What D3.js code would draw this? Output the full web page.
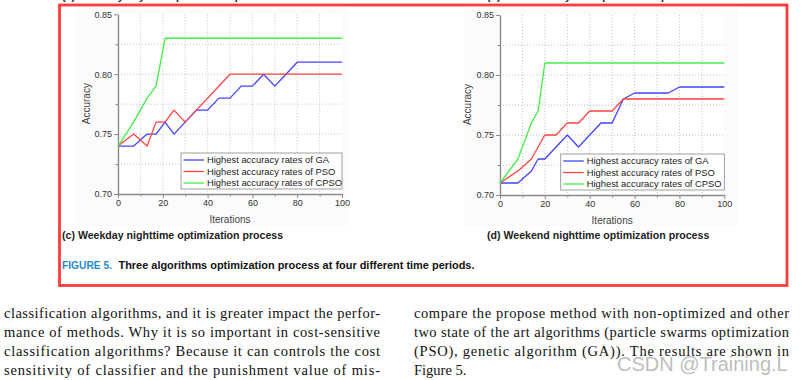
<!DOCTYPE html>
<html><head><meta charset="utf-8">
<script src="https://cdn.jsdelivr.net/npm/d3@7/dist/d3.min.js"></script>
<style>body{margin:0;background:#fff}svg{display:block}</style>
</head><body><svg id="c" width="804" height="380"></svg>
<script>
// ---------- data ----------
const xTicks = [0, 20, 40, 60, 80, 100];
const xMinorTicks = [10, 30, 50, 70, 90];
const yTicks = [0.70, 0.75, 0.80, 0.85];
const yMinorTicks = [0.725, 0.775, 0.825];
const legendLabels = ["Highest accuracy rates of GA", "Highest accuracy rates of PSO", "Highest accuracy rates of CPSO"];

// (c) Weekday nighttime
const iterGA_c   = [0, 7, 13, 17, 21, 25, 30, 35, 40, 45, 50, 55, 60, 65, 70, 75, 80, 100];
const accGA_c    = [0.74, 0.74, 0.75, 0.75, 0.76, 0.75, 0.76, 0.77, 0.77, 0.78, 0.78, 0.79, 0.79, 0.80, 0.79, 0.80, 0.81, 0.81];
const iterPSO_c  = [0, 7, 13, 17, 21, 25, 30, 50, 100];
const accPSO_c   = [0.74, 0.75, 0.74, 0.76, 0.76, 0.77, 0.76, 0.80, 0.80];
const iterCPSO_c = [0, 7, 13, 17, 21, 100];
const accCPSO_c  = [0.74, 0.76, 0.78, 0.79, 0.83, 0.83];

// (d) Weekend nighttime
const iterGA_d   = [0, 8, 14, 17, 20, 30, 35, 45, 50, 55, 60, 75, 80, 100];
const accGA_d    = [0.71, 0.71, 0.72, 0.73, 0.73, 0.75, 0.74, 0.76, 0.76, 0.78, 0.785, 0.785, 0.79, 0.79];
const iterPSO_d  = [0, 8, 14, 20, 25, 30, 35, 40, 50, 55, 100];
const accPSO_d   = [0.71, 0.72, 0.73, 0.75, 0.75, 0.76, 0.76, 0.77, 0.77, 0.78, 0.78];
const iterCPSO_d = [0, 8, 14, 17, 20, 100];
const accCPSO_d  = [0.71, 0.73, 0.76, 0.77, 0.81, 0.81];

const captionC = "(c) Weekday nighttime optimization process";
const captionD = "(d) Weekend nighttime optimization process";
const captionA = "(a) Weekday daytime optimization process";
const captionB = "(b) Weekend daytime optimization process";
const figLabel = "FIGURE 5.";
const figText = "Three algorithms optimization process at four different time periods.";
const leftCol = [
  "classification algorithms, and it is greater impact the perfor-",
  "mance of methods. Why it is so important in cost-sensitive",
  "classification algorithms? Because it can controls the cost",
  "sensitivity of classifier and the punishment value of mis-"
];
const rightCol = [
  "compare the propose method with non-optimized and other",
  "two state of the art algorithms (particle swarms optimization",
  "(PSO), genetic algorithm (GA)). The results are shown in",
  "Figure 5."
];
const watermark = "CSDN @Training.L";

// ---------- styles ----------
const colors = ["#4343ff", "#ff4343", "#44ee44"];
const sans = "'Liberation Sans', Arial, sans-serif";
const serif = "'Liberation Serif', 'Times New Roman', serif";

const svg = d3.select("#c");
svg.append("rect").attr("width", 804).attr("height", 380).attr("fill", "#fff");

// faint figure image backgrounds
svg.append("rect").attr("x", 76).attr("y", 7).attr("width", 272).attr("height", 219).attr("fill", "#fbfbfb");
svg.append("rect").attr("x", 464).attr("y", 7).attr("width", 274).attr("height", 219).attr("fill", "#fbfbfb");

function zip(a, b) { return a.map((v, i) => [v, b[i]]); }

function drawChart(cfg) {
  const g = svg.append("g");
  const x = d3.scaleLinear().domain([0, 100]).range([cfg.x0, cfg.x1]);
  const y = d3.scaleLinear().domain([0.70, 0.85]).range([cfg.yb, cfg.yt]);

  g.append("rect").attr("x", x(0)).attr("y", y(0.85)).attr("width", x(100) - x(0)).attr("height", y(0.70) - y(0.85)).attr("fill", "#fff");

  // grid
  const gridX = d3.range(10, 100, 10);
  g.selectAll(".gx").data(gridX).enter().append("line")
    .attr("x1", d => x(d)).attr("x2", d => x(d)).attr("y1", y(0.85)).attr("y2", y(0.70))
    .attr("stroke", "#b5b5b5").attr("stroke-width", 0.8).attr("stroke-dasharray", "1,2");
  const gridY = [0.725, 0.75, 0.775, 0.80, 0.825];
  g.selectAll(".gy").data(gridY).enter().append("line")
    .attr("x1", x(0)).attr("x2", x(100)).attr("y1", d => y(d)).attr("y2", d => y(d))
    .attr("stroke", "#b5b5b5").attr("stroke-width", 0.8).attr("stroke-dasharray", "1,2");

  // axes
  const xa = g.append("g").attr("transform", `translate(0,${y(0.70)})`)
    .call(d3.axisBottom(x).tickValues(xTicks).tickSize(4).tickSizeOuter(0).tickPadding(2).tickFormat(d3.format("d")));
  const xm = g.append("g").attr("transform", `translate(0,${y(0.70)})`)
    .call(d3.axisBottom(x).tickValues(xMinorTicks).tickSize(2.5).tickSizeOuter(0).tickFormat(""));
  const ya = g.append("g").attr("transform", `translate(${x(0)},0)`)
    .call(d3.axisLeft(y).tickValues(yTicks).tickSize(4).tickSizeOuter(0).tickPadding(2).tickFormat(d3.format(".2f")));
  const ym = g.append("g").attr("transform", `translate(${x(0)},0)`)
    .call(d3.axisLeft(y).tickValues(yMinorTicks).tickSize(2.5).tickSizeOuter(0).tickFormat(""));
  [xa, xm, ya, ym].forEach(a => {
    a.select(".domain").attr("stroke", "#8a8a8a").attr("stroke-width", 1.4);
    a.selectAll(".tick line").attr("stroke", "#8a8a8a").attr("stroke-width", 1);
    a.selectAll("text").attr("font-family", sans).attr("font-size", 9).attr("fill", "#333");
  });
  xm.select(".domain").remove();
  ym.select(".domain").remove();

  // axis titles
  g.append("text").attr("x", (x(0) + x(100)) / 2).attr("y", cfg.xTitleY)
    .attr("text-anchor", "middle").attr("font-family", sans).attr("font-size", 10).attr("fill", "#444").text("Iterations");
  g.append("text").attr("transform", `translate(${cfg.yTitleX},${(y(0.70) + y(0.85)) / 2 - 0.5}) rotate(-90)`)
    .attr("text-anchor", "middle").attr("font-family", sans).attr("font-size", 10).attr("fill", "#444").text("Accuracy");

  // lines
  const line = d3.line().x(d => x(d[0])).y(d => y(d[1]));
  cfg.series.forEach((s, i) => {
    g.append("path").datum(s).attr("d", line).attr("fill", "none")
      .attr("stroke", colors[i]).attr("stroke-width", 1.3).attr("stroke-linejoin", "round");
  });

  // legend
  const lx = cfg.legX, ly = cfg.legY, lw = x(100) - lx, lh = 36;
  g.append("rect").attr("x", lx).attr("y", ly).attr("width", lw).attr("height", lh)
    .attr("fill", "#fff").attr("stroke", "#888").attr("stroke-width", 0.8);
  legendLabels.forEach((lab, i) => {
    const cy = ly + 7 + i * 11.5;
    g.append("line").attr("x1", lx + 2.5).attr("x2", lx + 23).attr("y1", cy).attr("y2", cy)
      .attr("stroke", colors[i]).attr("stroke-width", 1.3);
    g.append("text").attr("x", lx + 26).attr("y", cy).attr("dy", "0.35em")
      .attr("font-family", sans).attr("font-size", 9.4).attr("fill", "#222").text(lab);
  });
}

drawChart({
  x0: 118, x1: 342, yt: 14.3, yb: 194,
  xTitleY: 222.5, yTitleX: 89.5, legX: 181,  legY: 153,
  series: [zip(iterGA_c, accGA_c), zip(iterPSO_c, accPSO_c), zip(iterCPSO_c, accCPSO_c)]
});
drawChart({
  x0: 500, x1: 724.3, yt: 15, yb: 195,
  xTitleY: 223.5, yTitleX: 470.5, legX: 560.7, legY: 154,
  series: [zip(iterGA_d, accGA_d), zip(iterPSO_d, accPSO_d), zip(iterCPSO_d, accCPSO_d)]
});

// clipped captions of the row above (only their lower edge is visible)
svg.append("text").attr("x", 62).attr("y", 0.3).attr("font-family", sans).attr("font-weight", "bold")
  .attr("font-size", 10.6).attr("fill", "#222").text(captionA);
svg.append("text").attr("x", 487).attr("y", 0.3).attr("font-family", sans).attr("font-weight", "bold")
  .attr("font-size", 10.6).attr("fill", "#222").text(captionB);

// sub-captions
svg.append("text").attr("x", 62).attr("y", 238.5).attr("font-family", sans).attr("font-weight", "bold")
  .attr("font-size", 10.6).attr("fill", "#222").text(captionC);
svg.append("text").attr("x", 487).attr("y", 238.5).attr("font-family", sans).attr("font-weight", "bold")
  .attr("font-size", 10.6).attr("fill", "#222").text(captionD);

// figure caption
svg.append("text").attr("x", 62).attr("y", 268.5).attr("font-family", sans).attr("font-weight", "bold")
  .attr("font-size", 10.5).attr("fill", "#1f8ccc").attr("textLength", 50).attr("lengthAdjust", "spacingAndGlyphs").text(figLabel);
svg.append("text").attr("x", 118.5).attr("y", 268.5).attr("font-family", sans).attr("font-weight", "bold")
  .attr("font-size", 10.5).attr("fill", "#111").attr("textLength", 356).attr("lengthAdjust", "spacingAndGlyphs").text(figText);

// red highlight border
svg.append("rect").attr("x", 59.5).attr("y", 5).attr("width", 727.5).attr("height", 280.5)
  .attr("fill", "none").attr("stroke", "#ff3b3b").attr("stroke-width", 2.8);

// body text
const baselines = [318, 337, 356, 375];
leftCol.forEach((t, i) => {
  svg.append("text").attr("x", 4).attr("y", baselines[i]).attr("font-family", serif).attr("font-size", 14.5)
    .attr("fill", "#111").attr("textLength", 376).attr("lengthAdjust", "spacing").text(t);
});
rightCol.forEach((t, i) => {
  const s = svg.append("text").attr("x", 414).attr("y", baselines[i]).attr("font-family", serif).attr("font-size", 14.5)
    .attr("fill", "#111").text(t);
  if (i < rightCol.length - 1) s.attr("textLength", 375).attr("lengthAdjust", "spacing");
});

// watermark
svg.append("text").attr("x", 617).attr("y", 371).attr("font-family", sans).attr("font-size", 20)
  .attr("fill", "#a0a0a0").attr("fill-opacity", 0.7).text(watermark);
</script>
</body></html>
